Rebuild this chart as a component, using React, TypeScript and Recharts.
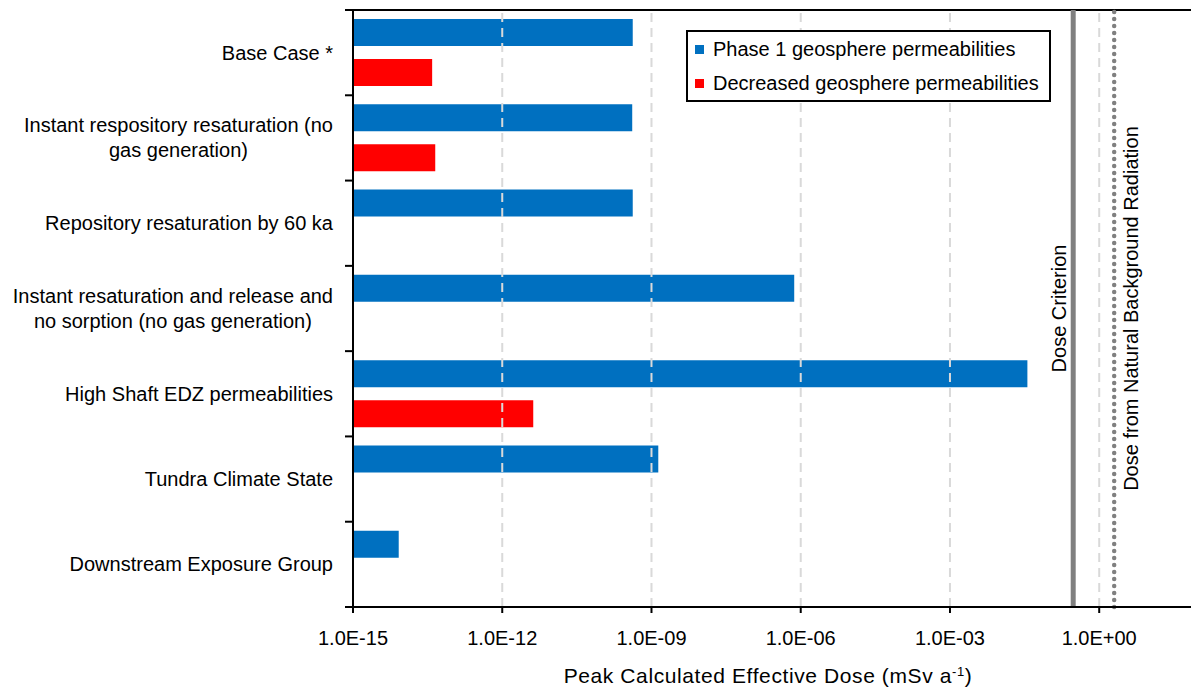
import React from "react";
import { BarChart, Bar, XAxis, YAxis, Legend, ReferenceLine, CartesianGrid } from "recharts";

const FONT = '"Liberation Sans", Arial, Helvetica, sans-serif';
const FONT_SIZE = 20;
const BLUE = "#0070C0";
const RED = "#FF0000";
const GREY = "#808080";
const GRID = "#D9D9D9";

// scenario names ("\n" = line break in the axis label)
const scenarios = [
  "Base Case *",
  "Instant respository resaturation (no\ngas generation)",
  "Repository resaturation by 60 ka",
  "Instant resaturation and release and\nno sorption (no gas generation)",
  "High Shaft EDZ permeabilities",
  "Tundra Climate State",
  "Downstream Exposure Group",
];

const seriesNames = ["Phase 1 geosphere permeabilities", "Decreased geosphere permeabilities"];

// peak dose, mSv/a
const phase1Dose = [4.2e-10, 4.1e-10, 4.2e-10, 7.4e-7, 3.6e-2, 1.37e-9, 8.3e-15];
const decreasedDose = [3.9e-14, 4.5e-14, null, null, 4.2e-12, null, null];

const doseTicks = [1e-15, 1e-12, 1e-9, 1e-6, 1e-3, 1];
const doseDomain = [1e-15, 70];

const doseCriterion = 0.3;
const naturalBackground = 2;

const data = scenarios.map((name, i) => ({
  name,
  phase1: phase1Dose[i],
  decreased: decreasedDose[i],
}));

const ctx = typeof document !== "undefined" ? document.createElement("canvas").getContext("2d") : null;
const textWidth = (s: string) => {
  if (!ctx) return s.length * 10;
  ctx.font = `${FONT_SIZE}px ${FONT}`;
  return ctx.measureText(s).width;
};

const formatDose = (v: number) => {
  const e = Math.round(Math.log10(v));
  return `1.0E${e < 0 ? "-" : "+"}${String(Math.abs(e)).padStart(2, "0")}`;
};

// multi-line labels: block right-aligned to the axis, lines centred in the block.
// tick marks sit on the category boundaries, not on the band centres
const ScenarioTick = ({ x, y, payload, index, visibleTicksCount }: any) => {
  const lines = String(payload.value).split("\n");
  const block = Math.max(...lines.map(textWidth));
  const cx = x - block / 2;
  const y0 = y - ((lines.length - 1) * 25) / 2;
  const axisX = x + 20;
  const half = payload.offset || 0;
  return (
    <g>
      <line x1={axisX - 8} x2={axisX} y1={y - half} y2={y - half} stroke="#000" strokeWidth={2} />
      {index === visibleTicksCount - 1 && (
        <line x1={axisX - 8} x2={axisX} y1={y + half} y2={y + half} stroke="#000" strokeWidth={2} />
      )}
      <text x={cx} y={y0} textAnchor="middle" fontFamily={FONT} fontSize={FONT_SIZE} fill="#000">
        {lines.map((l, i) => (
          <tspan key={i} x={cx} dy={i === 0 ? "0.35em" : 25}>
            {l}
          </tspan>
        ))}
      </text>
    </g>
  );
};

const VerticalLabel = ({ viewBox, text, dx }: any) => {
  const x = viewBox.x + dx;
  const y = viewBox.y + viewBox.height / 2;
  return (
    <text
      x={x}
      y={y}
      transform={`rotate(-90, ${x}, ${y})`}
      textAnchor="middle"
      fontFamily={FONT}
      fontSize={FONT_SIZE}
      fill="#000"
    >
      {text}
    </text>
  );
};

const AxisTitle = ({ viewBox }: any) => (
  <text
    x={viewBox.x + viewBox.width / 2 - 4}
    y={683}
    textAnchor="middle"
    fontFamily={FONT}
    fontSize={21}
    letterSpacing={0.6}
    fill="#000"
  >
    Peak Calculated Effective Dose (mSv a
    <tspan baselineShift="super" fontSize={13}>-1</tspan>)
  </text>
);

const LegendBox = ({ payload }: any) => {
  const items = [...(payload || [])].sort(
    (a: any, b: any) => seriesNames.indexOf(a.value) - seriesNames.indexOf(b.value)
  );
  return (
    <div
      style={{
        boxSizing: "border-box",
        width: 365,
        height: 72,
        border: "2px solid #000",
        background: "#fff",
        paddingLeft: 7,
        fontFamily: FONT,
        fontSize: FONT_SIZE,
        color: "#000",
      }}
    >
      {items.map((p: any) => (
        <div key={p.value} style={{ display: "flex", alignItems: "center", height: 34 }}>
          <span style={{ width: 9, height: 9, background: p.color, marginRight: 9, flexShrink: 0 }} />
          <span style={{ whiteSpace: "nowrap" }}>{p.value}</span>
        </div>
      ))}
    </div>
  );
};

export default function App() {
  return (
    <div style={{ position: "absolute", left: 0, top: 0, background: "#fff" }}>
      <BarChart
        width={1191}
        height={687}
        data={data}
        layout="vertical"
        barGap={13}
        margin={{ top: 10, right: 0, bottom: 0, left: 0 }}
      >
        {/* only the frame line along the top of the plot */}
        <CartesianGrid
          vertical={false}
          horizontalCoordinatesGenerator={({ offset }: any) => [offset.top]}
          stroke="#000"
          strokeWidth={2}
        />
        <XAxis
          type="number"
          scale="log"
          domain={doseDomain}
          allowDataOverflow
          ticks={doseTicks}
          tickFormatter={formatDose}
          height={80}
          tickSize={6}
          tickMargin={18}
          axisLine={{ stroke: "#000", strokeWidth: 2 }}
          tickLine={{ stroke: "#000", strokeWidth: 2 }}
          tick={{ fill: "#000", fontFamily: FONT, fontSize: FONT_SIZE }}
          label={<AxisTitle />}
        />
        <YAxis
          type="category"
          dataKey="name"
          width={353}
          axisLine={{ stroke: "#000", strokeWidth: 2 }}
          tickLine={false}
          tickSize={0}
          tickMargin={20}
          interval={0}
          tick={<ScenarioTick />}
        />
        <Legend
          layout="vertical"
          align="center"
          verticalAlign="middle"
          wrapperStyle={{ left: 686, top: 30, width: 365, height: 72 }}
          content={<LegendBox />}
        />
        <Bar
          dataKey="phase1"
          name={seriesNames[0]}
          fill={BLUE}
          barSize={27}
          isAnimationActive={false}
        />
        <Bar
          dataKey="decreased"
          name={seriesNames[1]}
          fill={RED}
          barSize={27}
          isAnimationActive={false}
        />
        {doseTicks.slice(1).map((t) => (
          <ReferenceLine key={t} x={t} stroke={GRID} strokeWidth={2} strokeDasharray="9 6" />
        ))}
        <ReferenceLine
          x={doseCriterion}
          stroke={GREY}
          strokeWidth={5}
          label={<VerticalLabel text="Dose Criterion" dx={-7} />}
        />
        <ReferenceLine
          x={naturalBackground}
          stroke={GREY}
          strokeWidth={4.5}
          strokeDasharray="0 7"
          strokeLinecap="round"
          label={<VerticalLabel text="Dose from Natural Background Radiation" dx={24} />}
        />
      </BarChart>
    </div>
  );
}
